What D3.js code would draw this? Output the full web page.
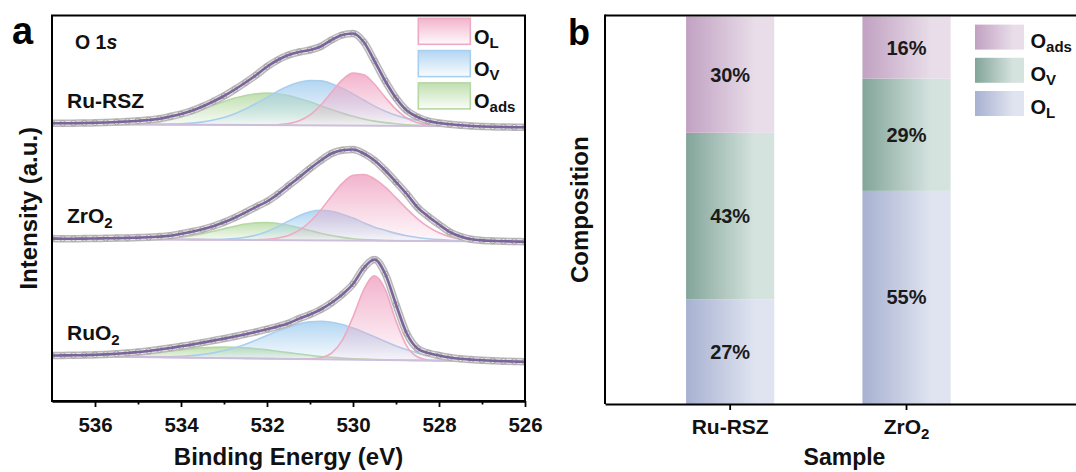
<!DOCTYPE html>
<html>
<head>
<meta charset="utf-8">
<script src="https://cdn.jsdelivr.net/npm/d3@7"></script>
<style>
  html, body { margin: 0; padding: 0; background: #fff; }
  svg { display: block; font-family: "Liberation Sans", Arial, Helvetica, sans-serif; }
</style>
</head>
<body>
<svg id="fig" width="1076" height="472"></svg>
<script>
// ---------------- data: O 1s XPS spectra ----------------
// binding energy grid of the measured points (eV)
const energyGrid = [537, 536.75, 536.5, 536.25, 536, 535.75, 535.5, 535.25, 535,
  534.75, 534.5, 534.25, 534, 533.75, 533.5, 533.25, 533,
  532.75, 532.5, 532.25, 532, 531.75, 531.5, 531.25, 531,
  530.75, 530.5, 530.25, 530, 529.75, 529.5, 529.25, 529,
  528.75, 528.5, 528.25, 528, 527.75, 527.5, 527.25, 527,
  526.75, 526.5, 526.25, 526];
// energy grid of the fitted components (eV)
const fitGrid = [536, 535.75, 535.5, 535.25, 535, 534.75, 534.5, 534.25, 534,
  533.75, 533.5, 533.25, 533, 532.75, 532.5, 532.25, 532,
  531.75, 531.5, 531.25, 531, 530.75, 530.5, 530.25, 530,
  529.75, 529.5, 529.25, 529, 528.75, 528.5, 528.25, 528,
  527.75, 527.5, 527.25, 527];

const xpsSamples = ["Ru-RSZ", "ZrO_2", "RuO_2"];
const stackOffset = [270, 155, 38];          // vertical offset of each stacked spectrum (a.u.)

// measured intensities (a.u., above the stack offset)
const measuredRuRSZ = [7.7, 7.7, 7.8, 8.0, 8.2, 8.5, 9.0, 9.5, 10.2,
  11.0, 12.2, 14.5, 17.0, 20.2, 24.5, 29.5, 35.0,
  41.5, 48.5, 56.0, 64.3, 71.0, 76.0, 79.0, 81.0,
  84.5, 91.0, 96.0, 97.5, 89.0, 70.0, 50.0, 33.0,
  20.5, 14.0, 10.0, 8.0, 6.7, 5.7, 5.0, 4.5,
  4.2, 4.0, 3.8, 3.7];
const measuredZrO2 = [7.4, 7.3, 7.3, 7.4, 7.5, 7.7, 7.9, 8.1, 8.4,
  8.7, 9.4, 10.2, 12.2, 14.3, 16.7, 19.8, 23.7,
  28.3, 33.7, 39.2, 44.5, 51.8, 60.2, 68.7, 77.5,
  85.5, 92.5, 95.8, 96.5, 92.5, 85.5, 75.5, 64.0,
  52.0, 38.7, 29.5, 21.5, 14.0, 9.5, 6.7, 5.6,
  5.1, 4.7, 4.5, 4.3];
const measuredRuO2 = [7.5, 7.6, 7.7, 7.9, 8.2, 8.6, 9.2, 10.0, 11.0,
  12.0, 13.5, 15.0, 16.7, 18.4, 20.4, 22.4, 24.4,
  26.5, 28.8, 31.2, 33.8, 36.5, 39.8, 44.4, 48.5,
  53.5, 60.2, 68.5, 79.0, 95.0, 103.5, 89.0, 58.5,
  29.5, 14.5, 10.0, 7.5, 5.5, 4.2, 3.4, 2.7,
  2.2, 1.8, 1.5, 1.3];

// background level at 537 eV and 526 eV
const baselineRuRSZ = [7.0, 4.5];
const baselineZrO2 = [7.3, 4.3];
const baselineRuO2 = [7.0, 1.3];

// fitted components (height above background, on fitGrid)
const latticeRuRSZ = [0, 0, 0, 0, 0, 0, 0, 0, 0,
  0, 0, 0, 0, 0, 0, 0, 0.1,
  0.5, 1.6, 4.5, 10.5, 20.4, 33.2, 45.6, 52.5,
  50.9, 41.5, 28.4, 16.4, 7.9, 3.2, 1.1, 0.3,
  0.1, 0, 0, 0];
const vacancyRuRSZ = [0, 0, 0, 0, 0.1, 0.1, 0.2, 0.5, 0.9,
  1.6, 2.9, 4.8, 7.5, 11.3, 16.0, 21.7, 27.8,
  33.9, 39.2, 43.0, 44.9, 44.5, 41.8, 37.4, 31.7,
  25.6, 19.6, 14.5, 10.5, 7.5, 5.5, 3.8, 2.5,
  1.6, 1.0, 0.5, 0.2];
const adsorbedRuRSZ = [0.2, 0.4, 0.7, 1.2, 2.0, 3.1, 4.6, 6.7, 9.3,
  12.4, 15.9, 19.7, 23.5, 26.9, 29.6, 31.4, 32.0,
  31.4, 29.6, 26.9, 23.5, 19.7, 15.9, 12.4, 9.3,
  6.7, 4.6, 3.1, 2.0, 1.2, 0.7, 0.4, 0.2,
  0.1, 0, 0, 0];

const latticeZrO2 = [0, 0, 0, 0, 0, 0, 0, 0, 0,
  0, 0, 0, 0, 0, 0, 0.3, 0.8,
  2.1, 4.8, 10.1, 18.6, 30.5, 44.3, 57.1, 65.2,
  66.2, 61.9, 53.6, 43.0, 32.1, 22.2, 14.2, 8.4,
  4.6, 2.4, 1.1, 0.5];
const vacancyZrO2 = [0, 0, 0, 0, 0, 0, 0, 0, 0,
  0, 0.1, 0.2, 0.5, 1.2, 2.6, 4.9, 8.6,
  13.5, 19.1, 24.6, 28.5, 30.0, 29.1, 26.4, 22.5,
  18.0, 13.5, 10.5, 7.5, 5.2, 3.6, 2.4, 1.5,
  0.9, 0.5, 0.2, 0];
const adsorbedZrO2 = [0, 0, 0, 0.1, 0.2, 0.4, 0.8, 1.4, 2.5,
  4.0, 6.0, 8.4, 11.1, 13.7, 15.9, 17.3, 17.6,
  16.7, 14.9, 12.5, 9.8, 7.2, 5.0, 3.2, 1.9,
  1.1, 0.6, 0.3, 0.1, 0, 0, 0, 0,
  0, 0, 0, 0];

const latticeRuO2 = [0, 0, 0, 0, 0, 0, 0, 0, 0,
  0, 0, 0, 0, 0, 0, 0, 0,
  0, 0, 0.1, 0.3, 1.5, 6.2, 19.1, 42.7,
  70.0, 84.0, 70.4, 39.0, 14.2, 3.4, 0.5, 0,
  0, 0, 0, 0];
const vacancyRuO2 = [0, 0, 0.1, 0.1, 0.2, 0.3, 0.4, 0.7, 1.3,
  2.1, 3.4, 5.1, 7.5, 10.5, 14.2, 18.5, 23.0,
  27.6, 31.7, 35.1, 37.2, 38.0, 37.2, 35.1, 31.7,
  27.6, 23.0, 18.5, 14.2, 10.5, 7.5, 5.1, 3.4,
  2.1, 1.3, 0.7, 0.4];
const adsorbedRuO2 = [0.6, 1.0, 1.5, 2.1, 3.0, 4.0, 5.2, 6.4, 7.7,
  8.9, 9.9, 10.6, 11.0, 10.9, 10.5, 9.7, 8.7,
  7.4, 6.2, 4.9, 3.8, 2.8, 2.0, 1.4, 0.9,
  0.6, 0.3, 0.2, 0.1, 0, 0, 0, 0,
  0, 0, 0, 0];

const componentLabels = ["O_L", "O_V", "O_ads"];
const energyTicks = [536, 534, 532, 530, 528, 526];
const energyMinorTicks = [535, 533, 531, 529, 527];

// ---------------- data: oxygen composition ----------------
const barSamples = ["Ru-RSZ", "ZrO_2"];
const latticeShare = [27, 55];    // O_L  (%)
const vacancyShare = [43, 29];    // O_V  (%)
const adsorbedShare = [30, 16];   // O_ads (%)
const barKeys = ["O_L", "O_V", "O_ads"];
const barLegendOrder = ["O_ads", "O_V", "O_L"];

// ---------------- helpers ----------------
const svg = d3.select("#fig");
const defs = svg.append("defs");

function richText(sel, str, subSize, subShift) {
  const parts = str.split("_");
  sel.text(null);
  sel.append("tspan").text(parts[0]);
  if (parts[1]) sel.append("tspan").attr("dy", subShift).attr("font-size", subSize).text(parts[1]);
}

function vGradient(id, color, topOpacity, bottomOpacity) {
  const g = defs.append("linearGradient").attr("id", id)
    .attr("x1", 0).attr("y1", 0).attr("x2", 0).attr("y2", 1);
  g.append("stop").attr("offset", "0%").attr("stop-color", color).attr("stop-opacity", topOpacity);
  g.append("stop").attr("offset", "100%").attr("stop-color", color).attr("stop-opacity", bottomOpacity);
}
function hGradient(id, dark, light) {
  const g = defs.append("linearGradient").attr("id", id)
    .attr("x1", 0).attr("y1", 0).attr("x2", 1).attr("y2", 0);
  g.append("stop").attr("offset", "0%").attr("stop-color", dark);
  g.append("stop").attr("offset", "78%").attr("stop-color", light);
  g.append("stop").attr("offset", "100%").attr("stop-color", light);
}

// ================= panel a: XPS =================
const A = { left: 52, right: 525, top: 15.5, bottom: 401 };
const xE = d3.scaleLinear().domain([537, 526]).range([A.left, A.right]);
const yI = d3.scaleLinear().domain([0, A.bottom - A.top]).range([A.bottom, A.top]);

const compColor = { O_L: "#f0a6c4", O_V: "#a6cff0", O_ads: "#b5daa2" };
const compLine = { O_L: "#efa9c3", O_V: "#a9cfee", O_ads: "#b6d8a4" };
componentLabels.forEach((k, i) => vGradient("comp" + i, compColor[k], 0.85, 0.06));

const spectra = [
  { name: xpsSamples[0], offset: stackOffset[0], measured: measuredRuRSZ, base: baselineRuRSZ,
    comps: [latticeRuRSZ, vacancyRuRSZ, adsorbedRuRSZ] },
  { name: xpsSamples[1], offset: stackOffset[1], measured: measuredZrO2, base: baselineZrO2,
    comps: [latticeZrO2, vacancyZrO2, adsorbedZrO2] },
  { name: xpsSamples[2], offset: stackOffset[2], measured: measuredRuO2, base: baselineRuO2,
    comps: [latticeRuO2, vacancyRuO2, adsorbedRuO2] }
];

const gA = svg.append("g");
const clipA = defs.append("clipPath").attr("id", "clipA");
clipA.append("rect").attr("x", A.left).attr("y", A.top).attr("width", A.right - A.left).attr("height", A.bottom - A.top);
const plotA = gA.append("g").attr("clip-path", "url(#clipA)");

spectra.forEach(s => {
  const g = plotA.append("g");
  const baseAt = d3.scaleLinear().domain([537, 526]).range(s.base);

  // fitted components, drawn from the background upward
  [2, 1, 0].forEach(ci => {
    const pts = fitGrid.map((e, i) => ({ e, b: baseAt(e), v: s.comps[ci][i] }));
    const area = d3.area().curve(d3.curveMonotoneX)
      .x(d => xE(d.e))
      .y0(d => yI(s.offset + d.b))
      .y1(d => yI(s.offset + d.b + d.v));
    const top = d3.line().curve(d3.curveMonotoneX)
      .x(d => xE(d.e)).y(d => yI(s.offset + d.b + d.v));
    g.append("path").attr("d", area(pts)).attr("fill", `url(#comp${ci})`);
    g.append("path").attr("d", top(pts)).attr("fill", "none")
      .attr("stroke", compLine[componentLabels[ci]]).attr("stroke-width", 1.6);
  });

  // background
  g.append("line")
    .attr("x1", xE(537)).attr("x2", xE(526))
    .attr("y1", yI(s.offset + s.base[0])).attr("y2", yI(s.offset + s.base[1]))
    .attr("stroke", "#cdbfdc").attr("stroke-width", 2);

  // measured points
  const pts = energyGrid.map((e, i) => ({ e, v: s.measured[i] }));
  const line = d3.line().curve(d3.curveMonotoneX)
    .x(d => xE(d.e)).y(d => yI(s.offset + d.v));
  g.append("path").attr("d", line(pts)).attr("fill", "none")
    .attr("stroke", "#b9b9b9").attr("stroke-width", 7.5).attr("stroke-linecap", "round");
  g.append("path").attr("d", line(pts)).attr("fill", "none")
    .attr("stroke", "#e4e4e4").attr("stroke-width", 4.5).attr("stroke-linecap", "round");
  g.selectAll("circle.pt").data(pts).join("circle").attr("class", "pt")
    .attr("cx", d => xE(d.e)).attr("cy", d => yI(s.offset + d.v)).attr("r", 2.8)
    .attr("fill", "#e6e6e6").attr("stroke", "#a3a3a3").attr("stroke-width", 1);

  // fit envelope
  g.append("path").attr("d", line(pts)).attr("fill", "none")
    .attr("stroke", "#7a6499").attr("stroke-width", 2.6);

  // sample label
  gA.append("text")
    .attr("x", 67).attr("y", yI(s.offset + s.measured[0]) - 15.5)
    .attr("font-size", 21).attr("font-weight", "bold").attr("fill", "#111")
    .call(t => richText(t, s.name, 15, 5));
});

// frame and axis
gA.append("rect").attr("x", A.left).attr("y", A.top)
  .attr("width", A.right - A.left).attr("height", A.bottom - A.top)
  .attr("fill", "none").attr("stroke", "#000").attr("stroke-width", 2);

const axA = gA.append("g").attr("transform", `translate(0,${A.bottom})`)
  .call(d3.axisBottom(xE).tickValues(energyTicks).tickSize(6).tickSizeOuter(0).tickPadding(10)
    .tickFormat(d3.format("d")));
const axAminor = gA.append("g").attr("transform", `translate(0,${A.bottom})`)
  .call(d3.axisBottom(xE).tickValues(energyMinorTicks).tickSize(3.5).tickSizeOuter(0).tickFormat(""));
[axA, axAminor].forEach(ax => {
  ax.select(".domain").attr("stroke", "#000").attr("stroke-width", 2);
  ax.selectAll(".tick line").attr("stroke", "#000").attr("stroke-width", 1.8);
});
axA.selectAll(".tick text").attr("font-size", 20.5).attr("font-weight", "bold")
  .attr("fill", "#111").attr("font-family", null);

gA.append("text").attr("x", (A.left + A.right) / 2).attr("y", 465)
  .attr("text-anchor", "middle").attr("font-size", 24).attr("font-weight", "bold").attr("fill", "#111")
  .text("Binding Energy (eV)");
gA.append("text").attr("transform", `translate(36.5,${(A.top + A.bottom) / 2}) rotate(-90)`)
  .attr("text-anchor", "middle").attr("font-size", 24).attr("font-weight", "bold").attr("fill", "#111")
  .text("Intensity (a.u.)");

// core-level tag
const tag = gA.append("text").attr("x", 75).attr("y", 49)
  .attr("font-size", 19.5).attr("font-weight", "bold").attr("fill", "#111");
tag.append("tspan").text("O 1");
tag.append("tspan").attr("font-style", "italic").text("s");

// legend
componentLabels.forEach((k, i) => {
  const y0 = 18.3 + i * 32.3;
  gA.append("rect").attr("x", 418.3).attr("y", y0).attr("width", 52).attr("height", 26)
    .attr("fill", `url(#comp${i})`).attr("stroke", compLine[k]).attr("stroke-width", 1.6);
  gA.append("text").attr("x", 474).attr("y", y0 + 25.5)
    .attr("font-size", 20).attr("font-weight", "bold").attr("fill", "#111")
    .call(t => richText(t, k, 15, 4));
});

// panel letter
svg.append("text").attr("x", 12).attr("y", 44).attr("font-size", 38).attr("font-weight", "bold")
  .attr("fill", "#000").text("a");

// ================= panel b: composition =================
const B = { left: 605, right: 1084, top: 15.5, bottom: 404 };
const xS = d3.scaleBand().domain(barSamples).range([B.left, B.right])
  .paddingInner(0.5).paddingOuter(0.608).align(0.378);
const yP = d3.scaleLinear().domain([0, 100]).range([B.bottom, 16.5]);

const barDark = { O_ads: "#c1a1c2", O_V: "#83a599", O_L: "#a7b1d1" };
const barLight = { O_ads: "#e8dde9", O_V: "#d5e3df", O_L: "#e0e4f0" };
barKeys.forEach(k => hGradient("bar_" + k, barDark[k], barLight[k]));

const composition = barSamples.map((s, i) => ({
  sample: s, O_L: latticeShare[i], O_V: vacancyShare[i], O_ads: adsorbedShare[i]
}));
const stacked = d3.stack().keys(barKeys)(composition);

const gB = svg.append("g");
stacked.forEach(layer => {
  const k = layer.key;
  gB.selectAll(null).data(layer).join("rect")
    .attr("x", d => xS(d.data.sample)).attr("width", xS.bandwidth())
    .attr("y", d => yP(d[1])).attr("height", d => yP(d[0]) - yP(d[1]))
    .attr("fill", `url(#bar_${k})`);
  gB.selectAll(null).data(layer).join("text")
    .attr("x", d => xS(d.data.sample) + xS.bandwidth() / 2)
    .attr("y", d => (yP(d[0]) + yP(d[1])) / 2 + 7)
    .attr("text-anchor", "middle").attr("font-size", 20).attr("font-weight", "bold").attr("fill", "#1a1a1a")
    .text(d => `${d.data[k]}%`);
});

// frame and axis
gB.append("line").attr("x1", B.left).attr("x2", B.right).attr("y1", B.top).attr("y2", B.top)
  .attr("stroke", "#000").attr("stroke-width", 2);
gB.append("line").attr("x1", B.left).attr("x2", B.left).attr("y1", B.top - 1).attr("y2", B.bottom)
  .attr("stroke", "#000").attr("stroke-width", 2);
const axB = gB.append("g").attr("transform", `translate(0,${B.bottom})`)
  .call(d3.axisBottom(xS).tickSize(6).tickSizeOuter(0).tickPadding(9));
axB.select(".domain").attr("stroke", "#000").attr("stroke-width", 2);
axB.selectAll(".tick line").attr("stroke", "#000").attr("stroke-width", 1.8);
axB.selectAll(".tick text").attr("font-size", 21).attr("font-weight", "bold").attr("fill", "#111")
  .attr("font-family", null)
  .each(function (d) { richText(d3.select(this), d, 15, 5); });

gB.append("text").attr("x", (B.left + B.right) / 2).attr("y", 465)
  .attr("text-anchor", "middle").attr("font-size", 23).attr("font-weight", "bold").attr("fill", "#111")
  .text("Sample");
gB.append("text").attr("transform", `translate(588,${(B.top + B.bottom) / 2}) rotate(-90)`)
  .attr("text-anchor", "middle").attr("font-size", 24).attr("font-weight", "bold").attr("fill", "#111")
  .text("Composition");

// legend
barLegendOrder.forEach((k, i) => {
  const y0 = 24.6 + i * 33.2;
  gB.append("rect").attr("x", 975).attr("y", y0).attr("width", 49).attr("height", 25)
    .attr("fill", `url(#bar_${k})`);
  gB.append("text").attr("x", 1030.5).attr("y", y0 + 23)
    .attr("font-size", 20).attr("font-weight", "bold").attr("fill", "#111")
    .call(t => richText(t, k, 15, 4));
});

svg.append("text").attr("x", 568).attr("y", 45).attr("font-size", 36).attr("font-weight", "bold")
  .attr("fill", "#000").text("b");
</script>
</body>
</html>
